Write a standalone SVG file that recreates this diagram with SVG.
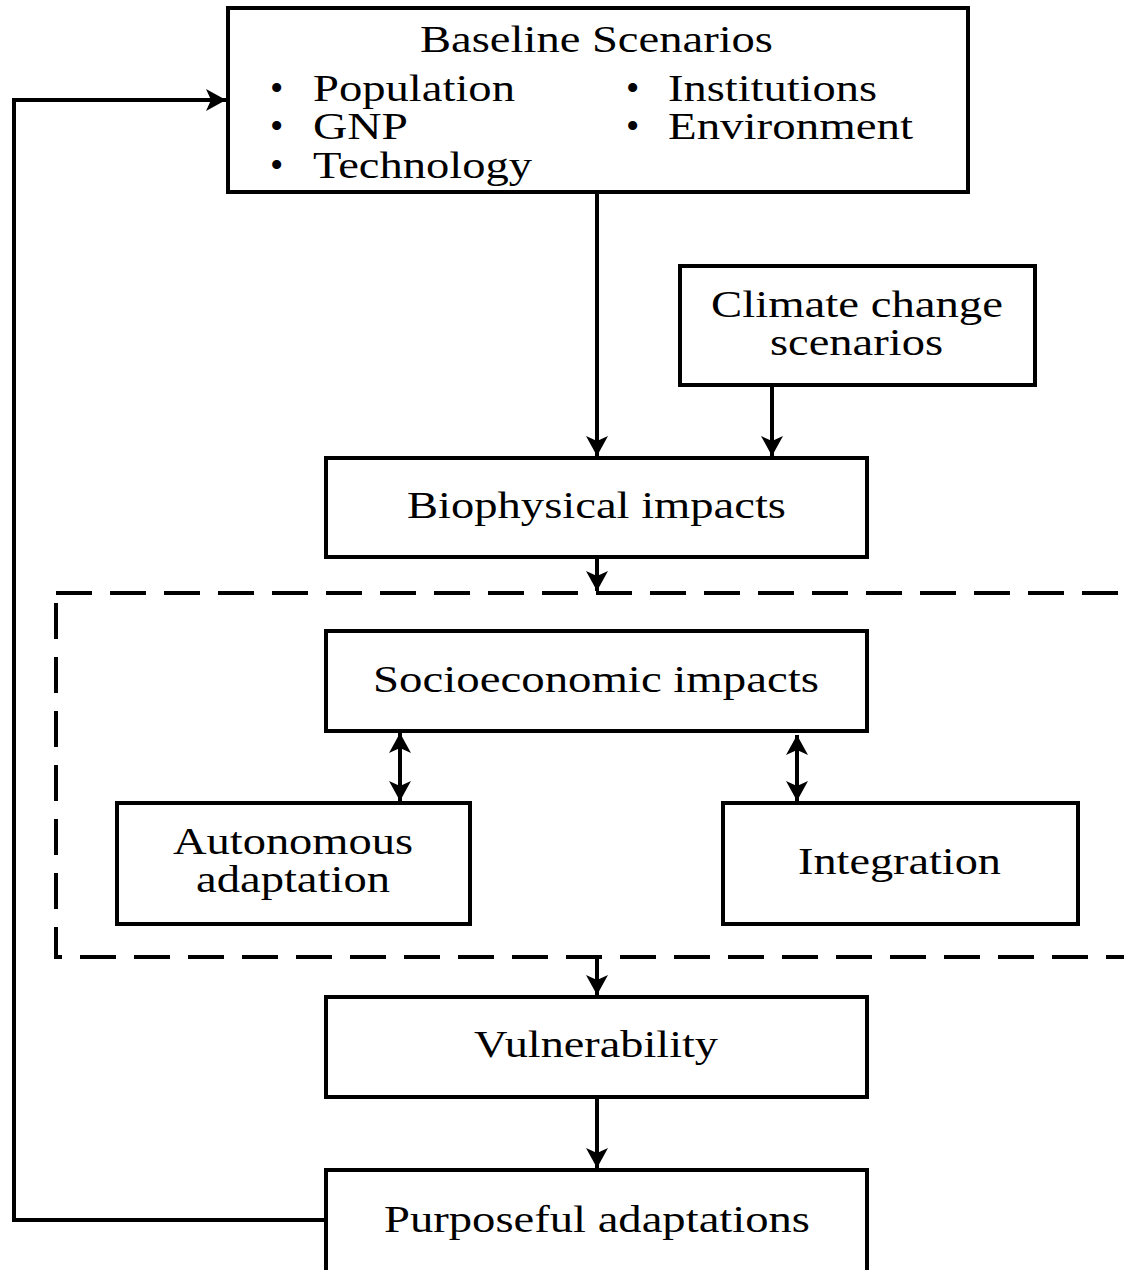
<svg xmlns="http://www.w3.org/2000/svg" width="1124" height="1270" viewBox="0 0 1124 1270">
<style>
.box{fill:#fff;stroke:#000;stroke-width:4}
.t{font-family:'Liberation Serif','Times New Roman',serif;font-size:38px;fill:#000}
.c{fill:none;stroke:#000;stroke-width:4}
</style>
<defs>
<marker id="ah" viewBox="0 0 20 22" refX="20" refY="11" markerWidth="20" markerHeight="22" markerUnits="userSpaceOnUse" orient="auto-start-reverse">
<path d="M0,0 L20,11 L0,22 L5,11 z" fill="#000"/>
</marker>
</defs>
<rect x="0" y="0" width="1124" height="1270" fill="#fff"/>
<g id="container">
<rect x="56" y="593" width="1090" height="364" fill="none" stroke="#000" stroke-width="4" stroke-dasharray="36 18"/>
</g>
<g id="baseline">
<rect class="box" x="228" y="8" width="740" height="184"/>
<text class="t" x="420" y="52" textLength="353" lengthAdjust="spacingAndGlyphs">Baseline Scenarios</text>
<text class="t" x="270" y="101">•</text>
<text class="t" x="313" y="101" textLength="202" lengthAdjust="spacingAndGlyphs">Population</text>
<text class="t" x="270" y="139">•</text>
<text class="t" x="313" y="139" textLength="95" lengthAdjust="spacingAndGlyphs">GNP</text>
<text class="t" x="270" y="178">•</text>
<text class="t" x="313" y="178" textLength="219" lengthAdjust="spacingAndGlyphs">Technology</text>
<text class="t" x="626" y="101">•</text>
<text class="t" x="668" y="101" textLength="209" lengthAdjust="spacingAndGlyphs">Institutions</text>
<text class="t" x="626" y="139">•</text>
<text class="t" x="668" y="139" textLength="245" lengthAdjust="spacingAndGlyphs">Environment</text>
</g>
<g id="climate">
<rect class="box" x="680" y="266" width="355" height="119"/>
<text class="t" x="711" y="317" textLength="292" lengthAdjust="spacingAndGlyphs">Climate change</text>
<text class="t" x="770" y="355" textLength="173" lengthAdjust="spacingAndGlyphs">scenarios</text>
</g>
<g id="biophysical">
<rect class="box" x="326" y="458" width="541" height="99"/>
<text class="t" x="407" y="518" textLength="379" lengthAdjust="spacingAndGlyphs">Biophysical impacts</text>
</g>
<g id="socioeconomic">
<rect class="box" x="326" y="631" width="541" height="100"/>
<text class="t" x="373" y="692" textLength="446" lengthAdjust="spacingAndGlyphs">Socioeconomic impacts</text>
</g>
<g id="autonomous">
<rect class="box" x="117" y="803" width="353" height="121"/>
<text class="t" x="173" y="854" textLength="240" lengthAdjust="spacingAndGlyphs">Autonomous</text>
<text class="t" x="196" y="892" textLength="194" lengthAdjust="spacingAndGlyphs">adaptation</text>
</g>
<g id="integration">
<rect class="box" x="723" y="803" width="355" height="121"/>
<text class="t" x="798" y="874" textLength="203" lengthAdjust="spacingAndGlyphs">Integration</text>
</g>
<g id="vulnerability">
<rect class="box" x="326" y="997" width="541" height="100"/>
<text class="t" x="474" y="1057" textLength="244" lengthAdjust="spacingAndGlyphs">Vulnerability</text>
</g>
<g id="purposeful">
<rect class="box" x="326" y="1170" width="541" height="140"/>
<text class="t" x="384" y="1232" textLength="426" lengthAdjust="spacingAndGlyphs">Purposeful adaptations</text>
</g>
<g id="connectors">
<path class="c" d="M597,192 V456" marker-end="url(#ah)"/>
<path class="c" d="M772,385 V456" marker-end="url(#ah)"/>
<path class="c" d="M597,557 V591" marker-end="url(#ah)"/>
<path class="c" d="M400,733 V801" marker-start="url(#ah)" marker-end="url(#ah)"/>
<path class="c" d="M797,735 V801" marker-start="url(#ah)" marker-end="url(#ah)"/>
<path class="c" d="M597,957 V995" marker-end="url(#ah)"/>
<path class="c" d="M597,1097 V1168" marker-end="url(#ah)"/>
<path class="c" d="M326,1220 H14 V100 H226" marker-end="url(#ah)"/>
</g>
</svg>
